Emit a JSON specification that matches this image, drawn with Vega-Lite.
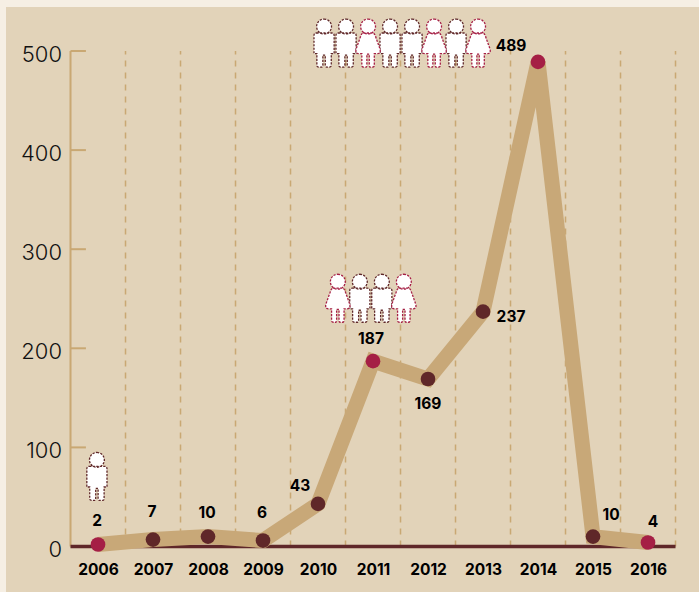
{
"$schema":"https://vega.github.io/schema/vega-lite/v6.json",
"width":693,"height":585,
"autosize":{"type":"none"},
"padding":{"left":6,"top":7,"right":0,"bottom":0},
"background":"#f6efe4",
"view":{"fill":"#e2d3b9","stroke":null},
"config":{"view":{"fill":"#e2d3b9","stroke":null},"font":"Inter"},
"datasets":{
"cases":[
{"year":2006,"cases":2,"group":"f"},
{"year":2007,"cases":7,"group":"m"},
{"year":2008,"cases":10,"group":"m"},
{"year":2009,"cases":6,"group":"m"},
{"year":2010,"cases":43,"group":"m"},
{"year":2011,"cases":187,"group":"f"},
{"year":2012,"cases":169,"group":"m"},
{"year":2013,"cases":237,"group":"m"},
{"year":2014,"cases":489,"group":"f"},
{"year":2015,"cases":10,"group":"m"},
{"year":2016,"cases":4,"group":"f"}],
"grid":[{"g":2006.5},{"g":2007.5},{"g":2008.5},{"g":2009.5},{"g":2010.5},{"g":2011.5},{"g":2012.5},{"g":2013.5},{"g":2014.5},{"g":2015.5},{"g":2016.5}],
"ticks":[{"v":0},{"v":100},{"v":200},{"v":300},{"v":400},{"v":500}],
"figures":[
{"fx":2005.98,"fy":70.7,"sex":"m"},
{"fx":2010.36,"fy":250.5,"sex":"f"},
{"fx":2010.76,"fy":250.5,"sex":"m"},
{"fx":2011.16,"fy":250.5,"sex":"m"},
{"fx":2011.56,"fy":250.5,"sex":"f"},
{"fx":2010.11,"fy":508,"sex":"m"},
{"fx":2010.51,"fy":508,"sex":"m"},
{"fx":2010.91,"fy":508,"sex":"f"},
{"fx":2011.31,"fy":508,"sex":"m"},
{"fx":2011.71,"fy":508,"sex":"m"},
{"fx":2012.11,"fy":508,"sex":"f"},
{"fx":2012.51,"fy":508,"sex":"m"},
{"fx":2012.91,"fy":508,"sex":"f"}]
},
"resolve":{"scale":{"color":"independent"}},
"layer":[
{"data":{"name":"grid"},"mark":{"type":"rule","color":"#c9a873","strokeWidth":1.5,"strokeDash":[6,6]},
 "encoding":{"x":{"field":"g","type":"quantitative","scale":{"domain":[2004.327,2016.927],"nice":false,"zero":false},
   "axis":{"orient":"bottom","offset":-45.5,"values":[2006,2007,2008,2009,2010,2011,2012,2013,2014,2015,2016],"format":"d","title":null,"domain":false,"ticks":false,"grid":false,"labelPadding":16,"labelFont":"Inter","labelFontSize":15.5,"labelFontWeight":700,"labelColor":"#000000"}},
  "y":{"datum":0,"type":"quantitative","scale":{"domain":[-45.91,544.4],"nice":false,"zero":false},
   "axis":{"orient":"left","offset":-64.5,"values":[0,100,200,300,400,500],"title":null,"domain":false,"ticks":false,"grid":false,"labelPadding":9,"labelOffset":3,"labelFont":"Inter","labelFontSize":22,"labelFontWeight":300,"labelColor":"#111111"}},
  "y2":{"datum":500}}},
{"data":{"name":"ticks"},"mark":{"type":"rule","color":"#c9a873","strokeWidth":2},
 "encoding":{"x":{"datum":2005.5,"type":"quantitative"},"x2":{"datum":2005.78},"y":{"field":"v","type":"quantitative"}}},
{"data":{"values":[{"a":2005.5}]},"mark":{"type":"rule","color":"#c9a873","strokeWidth":2},
 "encoding":{"x":{"field":"a","type":"quantitative"},"y":{"datum":0,"type":"quantitative"},"y2":{"datum":500}}},
{"data":{"values":[{"b":0}]},"mark":{"type":"rule","color":"#5f2729","strokeWidth":3.5},
 "encoding":{"x":{"datum":2005.5,"type":"quantitative"},"x2":{"datum":2016.5},"y":{"field":"b","type":"quantitative"}}},
{"data":{"name":"cases"},"mark":{"type":"line","color":"#c8a878","strokeWidth":15,"strokeJoin":"miter","strokeCap":"butt"},
 "encoding":{"x":{"field":"year","type":"quantitative"},"y":{"field":"cases","type":"quantitative"}}},
{"data":{"name":"cases"},"mark":{"type":"point","filled":true,"opacity":1,"size":215,"shape":"circle"},
 "encoding":{"x":{"field":"year","type":"quantitative"},"y":{"field":"cases","type":"quantitative"},
  "color":{"field":"group","type":"nominal","legend":null,"scale":{"domain":["f","m"],"range":["#a51f45","#5f2729"]}}}},
{"data":{"name":"figures"},"transform":[{"filter":"datum.sex==='m'"}],
 "mark":{"type":"point","filled":true,"fill":"#ffffff","fillOpacity":1,"opacity":1,"stroke":"#5f2729","strokeWidth":1.3,"strokeOpacity":1,"strokeDash":[2.2,1.3],"size":2304,
  "shape":"M0,-1 A0.31,0.31 0 1 1 0,-0.38 A0.31,0.31 0 1 1 0,-1 Z M-0.32,-0.42 L0.32,-0.42 Q0.42,-0.42 0.42,-0.32 L0.42,0.44 L0.3,0.44 L0.3,0.93 Q0.3,1 0.22,1 L0.1,1 Q0.05,1 0.05,0.93 L0.05,0.5 L-0.05,0.5 L-0.05,0.93 Q-0.05,1 -0.1,1 L-0.22,1 Q-0.3,1 -0.3,0.93 L-0.3,0.44 L-0.42,0.44 L-0.42,-0.32 Q-0.42,-0.42 -0.32,-0.42 Z"},
 "encoding":{"x":{"field":"fx","type":"quantitative"},"y":{"field":"fy","type":"quantitative"}}},
{"data":{"name":"figures"},"transform":[{"filter":"datum.sex==='f'"}],
 "mark":{"type":"point","filled":true,"fill":"#ffffff","fillOpacity":1,"opacity":1,"stroke":"#a51f45","strokeWidth":1.3,"strokeOpacity":1,"strokeDash":[2.2,1.3],"size":2304,
  "shape":"M0,-1 A0.31,0.31 0 1 1 0,-0.38 A0.31,0.31 0 1 1 0,-1 Z M-0.2,-0.42 L0.2,-0.42 Q0.28,-0.4 0.32,-0.25 L0.5,0.25 Q0.54,0.44 0.38,0.44 L0.26,0.44 L0.26,0.93 Q0.26,1 0.18,1 L0.09,1 Q0.05,1 0.05,0.93 L0.05,0.46 L-0.05,0.46 L-0.05,0.93 Q-0.05,1 -0.09,1 L-0.18,1 Q-0.26,1 -0.26,0.93 L-0.26,0.44 L-0.38,0.44 Q-0.54,0.44 -0.5,0.25 L-0.32,-0.25 Q-0.28,-0.4 -0.2,-0.42 Z"},
 "encoding":{"x":{"field":"fx","type":"quantitative"},"y":{"field":"fy","type":"quantitative"}}},
{"data":{"name":"cases"},"transform":[{"filter":{"field":"year","oneOf":[2006,2008]}}],
 "mark":{"type":"text","fontSize":15.5,"fontWeight":700,"font":"Inter","color":"#000000","dx":-1,"dy":-24},
 "encoding":{"x":{"field":"year","type":"quantitative"},"y":{"field":"cases","type":"quantitative"},"text":{"field":"cases","type":"nominal"}}},
{"data":{"name":"cases"},"transform":[{"filter":{"field":"year","oneOf":[2007,2009]}}],
 "mark":{"type":"text","fontSize":15.5,"fontWeight":700,"font":"Inter","color":"#000000","dx":-1,"dy":-27.5},
 "encoding":{"x":{"field":"year","type":"quantitative"},"y":{"field":"cases","type":"quantitative"},"text":{"field":"cases","type":"nominal"}}},
{"data":{"name":"cases"},"transform":[{"filter":{"field":"year","oneOf":[2011]}}],
 "mark":{"type":"text","fontSize":15.5,"fontWeight":700,"font":"Inter","color":"#000000","dx":-2,"dy":-22.5},
 "encoding":{"x":{"field":"year","type":"quantitative"},"y":{"field":"cases","type":"quantitative"},"text":{"field":"cases","type":"nominal"}}},
{"data":{"name":"cases"},"transform":[{"filter":{"field":"year","oneOf":[2012]}}],
 "mark":{"type":"text","fontSize":15.5,"fontWeight":700,"font":"Inter","color":"#000000","dx":0,"dy":25},
 "encoding":{"x":{"field":"year","type":"quantitative"},"y":{"field":"cases","type":"quantitative"},"text":{"field":"cases","type":"nominal"}}},
{"data":{"name":"cases"},"transform":[{"filter":{"field":"year","oneOf":[2010]}}],
 "mark":{"type":"text","fontSize":15.5,"fontWeight":700,"font":"Inter","color":"#000000","dx":-18,"dy":-18},
 "encoding":{"x":{"field":"year","type":"quantitative"},"y":{"field":"cases","type":"quantitative"},"text":{"field":"cases","type":"nominal"}}},
{"data":{"name":"cases"},"transform":[{"filter":{"field":"year","oneOf":[2013]}}],
 "mark":{"type":"text","fontSize":15.5,"fontWeight":700,"font":"Inter","color":"#000000","dx":28,"dy":5},
 "encoding":{"x":{"field":"year","type":"quantitative"},"y":{"field":"cases","type":"quantitative"},"text":{"field":"cases","type":"nominal"}}},
{"data":{"name":"cases"},"transform":[{"filter":{"field":"year","oneOf":[2014]}}],
 "mark":{"type":"text","fontSize":15.5,"fontWeight":700,"font":"Inter","color":"#000000","dx":-27,"dy":-16},
 "encoding":{"x":{"field":"year","type":"quantitative"},"y":{"field":"cases","type":"quantitative"},"text":{"field":"cases","type":"nominal"}}},
{"data":{"name":"cases"},"transform":[{"filter":{"field":"year","oneOf":[2015]}}],
 "mark":{"type":"text","fontSize":15.5,"fontWeight":700,"font":"Inter","color":"#000000","dx":18,"dy":-22},
 "encoding":{"x":{"field":"year","type":"quantitative"},"y":{"field":"cases","type":"quantitative"},"text":{"field":"cases","type":"nominal"}}},
{"data":{"name":"cases"},"transform":[{"filter":{"field":"year","oneOf":[2016]}}],
 "mark":{"type":"text","fontSize":15.5,"fontWeight":700,"font":"Inter","color":"#000000","dx":5,"dy":-21},
 "encoding":{"x":{"field":"year","type":"quantitative"},"y":{"field":"cases","type":"quantitative"},"text":{"field":"cases","type":"nominal"}}}
]
}
